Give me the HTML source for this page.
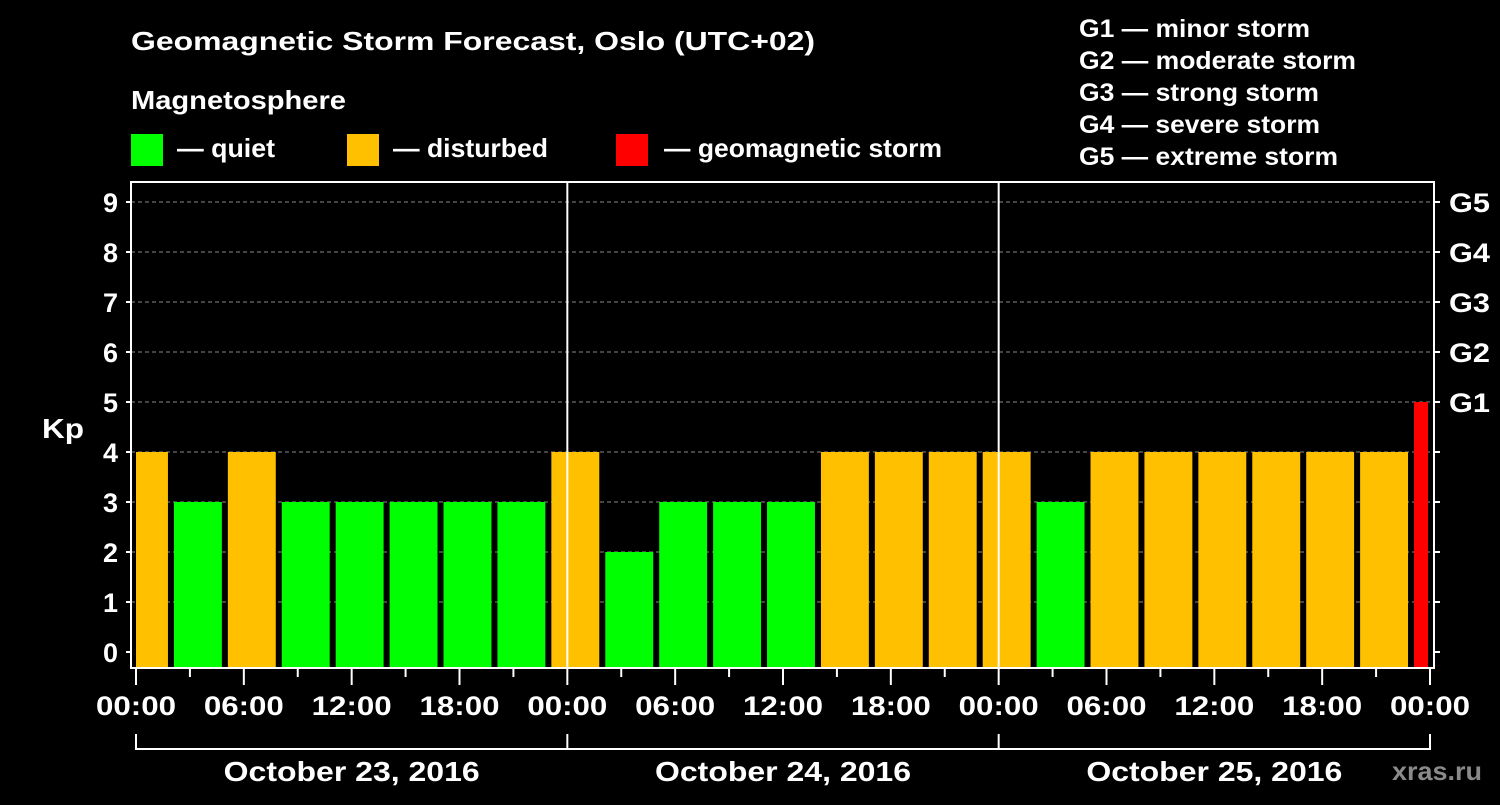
<!DOCTYPE html>
<html><head><meta charset="utf-8"><style>
body{margin:0;background:#000;}
svg text{font-family:"Liberation Sans",Arial,sans-serif;font-weight:bold;fill:#fff;}
</style></head><body>
<svg id="chart" width="1500" height="800" viewBox="0 0 1500 800" xmlns="http://www.w3.org/2000/svg">
<rect width="1500" height="800" fill="#000"/>
<text x="131" y="50" font-size="26" textLength="684" lengthAdjust="spacingAndGlyphs">Geomagnetic Storm Forecast, Oslo (UTC+02)</text>
<text x="131" y="109" font-size="26" textLength="215" lengthAdjust="spacingAndGlyphs">Magnetosphere</text>
<g><rect x="131" y="134" width="32" height="32" fill="#00ff00"/><text x="177" y="157" font-size="26" textLength="98" lengthAdjust="spacingAndGlyphs">— quiet</text></g>
<g><rect x="347" y="134" width="32" height="32" fill="#ffc000"/><text x="393" y="157" font-size="26" textLength="155" lengthAdjust="spacingAndGlyphs">— disturbed</text></g>
<g><rect x="616" y="134" width="32" height="32" fill="#ff0000"/><text x="664" y="157" font-size="26" textLength="278" lengthAdjust="spacingAndGlyphs">— geomagnetic storm</text></g>
<g font-size="25" lengthAdjust="spacingAndGlyphs">
<text x="1079" y="37" textLength="231" lengthAdjust="spacingAndGlyphs">G1 — minor storm</text>
<text x="1079" y="69" textLength="277" lengthAdjust="spacingAndGlyphs">G2 — moderate storm</text>
<text x="1079" y="101" textLength="240" lengthAdjust="spacingAndGlyphs">G3 — strong storm</text>
<text x="1079" y="133" textLength="241" lengthAdjust="spacingAndGlyphs">G4 — severe storm</text>
<text x="1079" y="165" textLength="259" lengthAdjust="spacingAndGlyphs">G5 — extreme storm</text>
</g>
<text x="42" y="438" font-size="28" textLength="42" lengthAdjust="spacingAndGlyphs">Kp</text>
<text x="1392" y="780" font-size="26" textLength="90" lengthAdjust="spacingAndGlyphs" style="fill:#8a8a8a">xras.ru</text>
<g id="grid"></g>
<g id="bars"></g>
<g id="axes"></g>
</svg>
<script>
const kpValues=[4,3,4,3,3,3,3,3,4,2,3,3,3,4,4,4,4,3,4,4,4,4,4,4,5];
const yTicks=[0,1,2,3,4,5,6,7,8,9];
const gLabels=["G1","G2","G3","G4","G5"];
const xTickLabels=["00:00","06:00","12:00","18:00","00:00","06:00","12:00","18:00","00:00","06:00","12:00","18:00","00:00"];
const dayLabels=["October 23, 2016","October 24, 2016","October 25, 2016"];
const NS="http://www.w3.org/2000/svg";
const L=131,R=1434,T=182,B=668,X0=136,X1=1430,totalH=72;
const x=h=>X0+(X1-X0)*h/totalH;
const y=v=>652-50*v;
function mk(tag,attrs,parent){const e=document.createElementNS(NS,tag);for(const k in attrs)e.setAttribute(k,attrs[k]);parent.appendChild(e);return e;}
const grid=document.getElementById('grid'),bars=document.getElementById('bars'),axes=document.getElementById('axes');
yTicks.forEach(v=>{if(v>0){const l=mk('line',{x1:L,x2:R,y1:y(v),y2:y(v),stroke:'#888','stroke-width':1,'stroke-dasharray':'4,3'},grid);

}});
kpValues.forEach((v,i)=>{
 const hs=-1+3*i,he=hs+3;
 let x1=Math.max(x(hs)+2,X0),x2=Math.min(x(he)-4,X1-2);
 const col=v>=5?'#ff0000':(v>=4?'#ffc000':'#00ff00');
 const r=mk('rect',{x:x1,y:y(v),width:x2-x1,height:B-y(v),fill:col},bars);
 
 
});
[1,2].forEach(d=>{const l=mk('line',{x1:x(24*d),x2:x(24*d),y1:T,y2:B,stroke:'#fff','stroke-width':2},axes);

});
const frame=mk('rect',{x:L,y:T,width:R-L,height:B-T,fill:'none',stroke:'#fff','stroke-width':2},axes);


yTicks.forEach(v=>{
 mk('line',{x1:L-5,x2:L,y1:y(v),y2:y(v),stroke:'#fff','stroke-width':2},axes);
 mk('line',{x1:R,x2:R+6,y1:y(v),y2:y(v),stroke:'#fff','stroke-width':2},axes);
 const t=mk('text',{x:L-13,y:y(v)+10,'font-size':27,'text-anchor':'end'},axes);t.textContent=v;
 
 
 if(v>=5){const g=mk('text',{x:R+15,y:y(v)+10,'font-size':27,textLength:41,lengthAdjust:'spacingAndGlyphs'},axes);g.textContent=gLabels[v-5];
 
 }
});
for(let h=0;h<=72;h+=3){const maj=h%6===0;mk('line',{x1:x(h),x2:x(h),y1:B,y2:B+(maj?17:9),stroke:'#fff','stroke-width':2},axes);}
xTickLabels.forEach((s,i)=>{const t=mk('text',{x:x(6*i),y:715,'font-size':27,'text-anchor':'middle',textLength:80,lengthAdjust:'spacingAndGlyphs'},axes);t.textContent=s;

});
mk('line',{x1:X0,x2:X1,y1:749,y2:749,stroke:'#fff','stroke-width':2},axes);
[0,1,2,3].forEach(d=>mk('line',{x1:x(24*d),x2:x(24*d),y1:734,y2:750,stroke:'#fff','stroke-width':2},axes));
dayLabels.forEach((s,i)=>{const t=mk('text',{x:x(24*i+12),y:781,'font-size':28,'text-anchor':'middle',textLength:256,lengthAdjust:'spacingAndGlyphs'},axes);t.textContent=s;

});
</script>
</body></html>
